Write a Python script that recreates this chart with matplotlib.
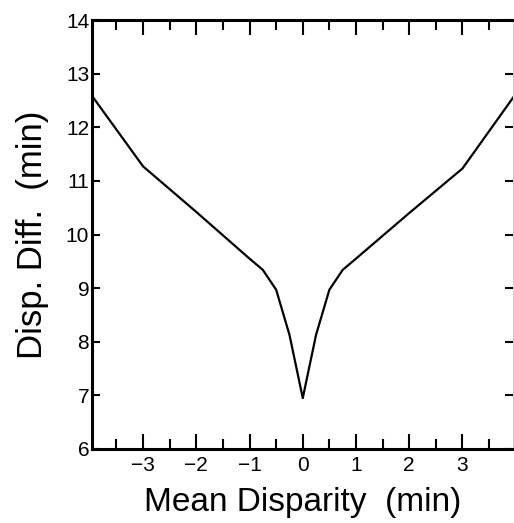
"""Disparity-difference threshold as a function of mean disparity."""

import matplotlib

matplotlib.use("Agg")
import matplotlib.pyplot as plt
from matplotlib.ticker import MultipleLocator

# values (arcmin)
mean_disparity = [-4.0, -3.0, -2.0, -1.0, -0.75, -0.5, -0.25, 0.0,
                  0.25, 0.5, 0.75, 1.0, 2.0, 3.0, 4.0]
disp_diff = [12.64, 11.27, 10.42, 9.55, 9.34, 8.97, 8.13, 6.95,
             8.13, 8.97, 9.34, 9.55, 10.40, 11.23, 12.62]
x_ticks = [-3, -2, -1, 0, 1, 2, 3]
y_ticks = [6, 7, 8, 9, 10, 11, 12, 13, 14]

plt.rcParams["font.family"] = ["Liberation Sans", "DejaVu Sans"]

fig = plt.figure(figsize=(5.14, 5.23), dpi=100)
ax = fig.add_axes([92 / 514, 74 / 523, 421 / 514, 429 / 523])

ax.plot(mean_disparity, disp_diff, color="black", lw=1.6, clip_on=True)

ax.set_xlim(-3.96, 3.95)
ax.set_ylim(6, 14)
ax.set_xticks(x_ticks)
ax.set_yticks(y_ticks)
ax.xaxis.set_minor_locator(MultipleLocator(0.5))

for side in ("left", "top", "bottom"):
    ax.spines[side].set_linewidth(2.2)
ax.spines["right"].set_linewidth(0.8)
ax.spines["right"].set_color("#cccccc")

ax.tick_params(axis="x", which="major", direction="in", length=11, width=1.5,
               top=True, labelsize=15, pad=5)
ax.tick_params(axis="x", which="minor", direction="in", length=7, width=1.5, top=True)
ax.tick_params(axis="y", which="major", direction="in", length=6, width=1.5,
               right=True, labelsize=15, pad=2)

ax.set_xlabel("Mean Disparity  (min)", fontsize=24, labelpad=9)
ax.set_ylabel("Disp. Diff.  (min)", fontsize=25, labelpad=12)

fig.savefig("out.png", dpi=100)
plt.close(fig)
